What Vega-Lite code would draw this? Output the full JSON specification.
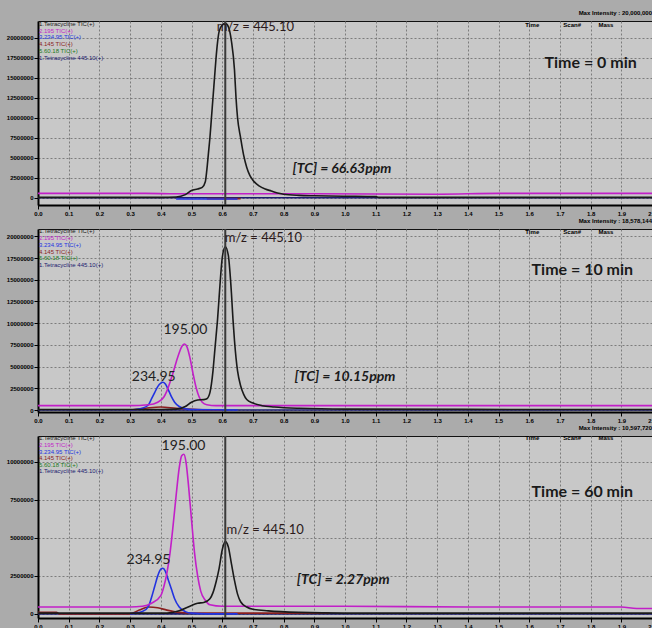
{
  "$schema": "https://vega.github.io/schema/vega-lite/v6.json",
  "background": "#ababab",
  "padding": {"left": 0, "top": 9, "right": 0, "bottom": 0},
  "spacing": 0,
  "config": {
    "view": {"fill": "#c8c8c8", "stroke": "#111111", "strokeWidth": 1},
    "axis": {"labelFont": "Liberation Sans", "labelFontSize": 6, "labelFontWeight": "bold", "labelColor": "#000000", "tickColor": "#000000", "tickSize": 4, "domainColor": "#000000", "domainWidth": 2, "gridColor": "#7c7c7c", "gridDash": [2, 2], "gridWidth": 1, "labelPadding": 1},
    "title": {"font": "Liberation Sans", "fontSize": 6, "fontWeight": "bold", "anchor": "end", "frame": "group", "offset": 0, "color": "#000000"},
    "line": {"strokeWidth": 1.6, "interpolate": "monotone"}
  },
  "datasets": {
    "lines": [
      {"p":1,"s":"m445","x":0,"y":0},{"p":1,"s":"m445","x":2,"y":0},
      {"p":1,"s":"m145","x":0.55,"y":-100000},{"p":1,"s":"m145","x":0.66,"y":-100000},
      {"p":1,"s":"m234","x":0.45,"y":-150000},{"p":1,"s":"m234","x":0.65,"y":-150000},
      {"p":1,"s":"m195","x":0,"y":550000},{"p":1,"s":"m195","x":0.35,"y":550000},{"p":1,"s":"m195","x":0.45,"y":500000},{"p":1,"s":"m195","x":0.9,"y":500000},{"p":1,"s":"m195","x":1.3,"y":450000},{"p":1,"s":"m195","x":1.5,"y":550000},{"p":1,"s":"m195","x":2,"y":550000},
      {"p":1,"s":"tic","x":0,"y":50000},{"p":1,"s":"tic","x":0.4,"y":50000},{"p":1,"s":"tic","x":0.45,"y":100000},{"p":1,"s":"tic","x":0.48,"y":400000},{"p":1,"s":"tic","x":0.5,"y":900000},{"p":1,"s":"tic","x":0.52,"y":1100000},{"p":1,"s":"tic","x":0.535,"y":1300000},{"p":1,"s":"tic","x":0.545,"y":2000000},{"p":1,"s":"tic","x":0.55,"y":3500000},{"p":1,"s":"tic","x":0.555,"y":5500000},{"p":1,"s":"tic","x":0.56,"y":7500000},{"p":1,"s":"tic","x":0.565,"y":10000000},{"p":1,"s":"tic","x":0.57,"y":12500000},{"p":1,"s":"tic","x":0.575,"y":15000000},{"p":1,"s":"tic","x":0.58,"y":17500000},{"p":1,"s":"tic","x":0.585,"y":19500000},{"p":1,"s":"tic","x":0.59,"y":20800000},{"p":1,"s":"tic","x":0.6,"y":21600000},{"p":1,"s":"tic","x":0.61,"y":21800000},{"p":1,"s":"tic","x":0.62,"y":21400000},{"p":1,"s":"tic","x":0.63,"y":19600000},{"p":1,"s":"tic","x":0.64,"y":16000000},{"p":1,"s":"tic","x":0.645,"y":12500000},{"p":1,"s":"tic","x":0.65,"y":10000000},{"p":1,"s":"tic","x":0.66,"y":7500000},{"p":1,"s":"tic","x":0.67,"y":5300000},{"p":1,"s":"tic","x":0.68,"y":3800000},{"p":1,"s":"tic","x":0.69,"y":2800000},{"p":1,"s":"tic","x":0.7,"y":2200000},{"p":1,"s":"tic","x":0.72,"y":1500000},{"p":1,"s":"tic","x":0.74,"y":1100000},{"p":1,"s":"tic","x":0.76,"y":850000},{"p":1,"s":"tic","x":0.78,"y":600000},{"p":1,"s":"tic","x":0.8,"y":450000},{"p":1,"s":"tic","x":0.85,"y":300000},{"p":1,"s":"tic","x":0.9,"y":250000},{"p":1,"s":"tic","x":1.0,"y":200000},{"p":1,"s":"tic","x":1.1,"y":150000},{"p":1,"s":"tic","x":1.11,"y":50000},{"p":1,"s":"tic","x":2,"y":50000},

      {"p":2,"s":"m445","x":0,"y":0},{"p":2,"s":"m445","x":2,"y":0},
      {"p":2,"s":"m145","x":0.3,"y":0},{"p":2,"s":"m145","x":0.35,"y":200000},{"p":2,"s":"m145","x":0.4,"y":350000},{"p":2,"s":"m145","x":0.45,"y":200000},{"p":2,"s":"m145","x":0.52,"y":50000},{"p":2,"s":"m145","x":0.6,"y":0},
      {"p":2,"s":"m234","x":0.3,"y":0},{"p":2,"s":"m234","x":0.34,"y":200000},{"p":2,"s":"m234","x":0.36,"y":600000},{"p":2,"s":"m234","x":0.37,"y":1300000},{"p":2,"s":"m234","x":0.38,"y":2000000},{"p":2,"s":"m234","x":0.39,"y":2700000},{"p":2,"s":"m234","x":0.4,"y":3100000},{"p":2,"s":"m234","x":0.406,"y":3200000},{"p":2,"s":"m234","x":0.415,"y":3000000},{"p":2,"s":"m234","x":0.425,"y":2300000},{"p":2,"s":"m234","x":0.435,"y":1500000},{"p":2,"s":"m234","x":0.445,"y":900000},{"p":2,"s":"m234","x":0.46,"y":400000},{"p":2,"s":"m234","x":0.48,"y":150000},{"p":2,"s":"m234","x":0.5,"y":50000},{"p":2,"s":"m234","x":0.65,"y":0},
      {"p":2,"s":"m195","x":0,"y":500000},{"p":2,"s":"m195","x":0.3,"y":500000},{"p":2,"s":"m195","x":0.36,"y":600000},{"p":2,"s":"m195","x":0.39,"y":900000},{"p":2,"s":"m195","x":0.41,"y":1500000},{"p":2,"s":"m195","x":0.42,"y":2200000},{"p":2,"s":"m195","x":0.43,"y":3200000},{"p":2,"s":"m195","x":0.44,"y":4300000},{"p":2,"s":"m195","x":0.45,"y":5500000},{"p":2,"s":"m195","x":0.46,"y":6600000},{"p":2,"s":"m195","x":0.47,"y":7400000},{"p":2,"s":"m195","x":0.477,"y":7600000},{"p":2,"s":"m195","x":0.485,"y":7300000},{"p":2,"s":"m195","x":0.495,"y":6000000},{"p":2,"s":"m195","x":0.505,"y":4200000},{"p":2,"s":"m195","x":0.515,"y":2600000},{"p":2,"s":"m195","x":0.525,"y":1500000},{"p":2,"s":"m195","x":0.535,"y":900000},{"p":2,"s":"m195","x":0.55,"y":600000},{"p":2,"s":"m195","x":0.58,"y":500000},{"p":2,"s":"m195","x":2,"y":500000},
      {"p":2,"s":"tic","x":0,"y":50000},{"p":2,"s":"tic","x":0.4,"y":50000},{"p":2,"s":"tic","x":0.45,"y":100000},{"p":2,"s":"tic","x":0.48,"y":400000},{"p":2,"s":"tic","x":0.5,"y":900000},{"p":2,"s":"tic","x":0.52,"y":1150000},{"p":2,"s":"tic","x":0.54,"y":1200000},{"p":2,"s":"tic","x":0.55,"y":1300000},{"p":2,"s":"tic","x":0.56,"y":2000000},{"p":2,"s":"tic","x":0.565,"y":3000000},{"p":2,"s":"tic","x":0.57,"y":4500000},{"p":2,"s":"tic","x":0.575,"y":6500000},{"p":2,"s":"tic","x":0.58,"y":8500000},{"p":2,"s":"tic","x":0.585,"y":10500000},{"p":2,"s":"tic","x":0.59,"y":13000000},{"p":2,"s":"tic","x":0.595,"y":15500000},{"p":2,"s":"tic","x":0.6,"y":17500000},{"p":2,"s":"tic","x":0.61,"y":18800000},{"p":2,"s":"tic","x":0.62,"y":17800000},{"p":2,"s":"tic","x":0.625,"y":16000000},{"p":2,"s":"tic","x":0.63,"y":13500000},{"p":2,"s":"tic","x":0.635,"y":10500000},{"p":2,"s":"tic","x":0.64,"y":8000000},{"p":2,"s":"tic","x":0.645,"y":6000000},{"p":2,"s":"tic","x":0.65,"y":4500000},{"p":2,"s":"tic","x":0.66,"y":2800000},{"p":2,"s":"tic","x":0.67,"y":1800000},{"p":2,"s":"tic","x":0.68,"y":1200000},{"p":2,"s":"tic","x":0.7,"y":800000},{"p":2,"s":"tic","x":0.73,"y":500000},{"p":2,"s":"tic","x":0.77,"y":350000},{"p":2,"s":"tic","x":0.85,"y":200000},{"p":2,"s":"tic","x":1.0,"y":100000},{"p":2,"s":"tic","x":2,"y":50000},

      {"p":3,"s":"m445","x":0,"y":0},{"p":3,"s":"m445","x":2,"y":0},
      {"p":3,"s":"m145","x":0,"y":100000},{"p":3,"s":"m145","x":0.06,"y":100000},{"p":3,"s":"m145","x":0.07,"y":0},{"p":3,"s":"m145","x":0.3,"y":0},{"p":3,"s":"m145","x":0.33,"y":250000},{"p":3,"s":"m145","x":0.36,"y":450000},{"p":3,"s":"m145","x":0.39,"y":400000},{"p":3,"s":"m145","x":0.42,"y":250000},{"p":3,"s":"m145","x":0.46,"y":100000},{"p":3,"s":"m145","x":0.5,"y":50000},{"p":3,"s":"m145","x":0.95,"y":50000},
      {"p":3,"s":"m234","x":0.3,"y":0},{"p":3,"s":"m234","x":0.34,"y":150000},{"p":3,"s":"m234","x":0.36,"y":500000},{"p":3,"s":"m234","x":0.37,"y":1100000},{"p":3,"s":"m234","x":0.38,"y":1800000},{"p":3,"s":"m234","x":0.39,"y":2500000},{"p":3,"s":"m234","x":0.4,"y":2950000},{"p":3,"s":"m234","x":0.407,"y":3000000},{"p":3,"s":"m234","x":0.415,"y":2800000},{"p":3,"s":"m234","x":0.425,"y":2200000},{"p":3,"s":"m234","x":0.435,"y":1600000},{"p":3,"s":"m234","x":0.445,"y":1000000},{"p":3,"s":"m234","x":0.46,"y":450000},{"p":3,"s":"m234","x":0.48,"y":150000},{"p":3,"s":"m234","x":0.5,"y":50000},{"p":3,"s":"m234","x":0.55,"y":0},{"p":3,"s":"m234","x":0.65,"y":0},
      {"p":3,"s":"m195","x":0,"y":450000},{"p":3,"s":"m195","x":0.3,"y":450000},{"p":3,"s":"m195","x":0.34,"y":500000},{"p":3,"s":"m195","x":0.37,"y":700000},{"p":3,"s":"m195","x":0.4,"y":1200000},{"p":3,"s":"m195","x":0.41,"y":1800000},{"p":3,"s":"m195","x":0.42,"y":2700000},{"p":3,"s":"m195","x":0.43,"y":4000000},{"p":3,"s":"m195","x":0.44,"y":5800000},{"p":3,"s":"m195","x":0.45,"y":7800000},{"p":3,"s":"m195","x":0.46,"y":9600000},{"p":3,"s":"m195","x":0.468,"y":10400000},{"p":3,"s":"m195","x":0.475,"y":10500000},{"p":3,"s":"m195","x":0.482,"y":10000000},{"p":3,"s":"m195","x":0.49,"y":8500000},{"p":3,"s":"m195","x":0.5,"y":6200000},{"p":3,"s":"m195","x":0.51,"y":4000000},{"p":3,"s":"m195","x":0.52,"y":2500000},{"p":3,"s":"m195","x":0.53,"y":1500000},{"p":3,"s":"m195","x":0.545,"y":900000},{"p":3,"s":"m195","x":0.56,"y":600000},{"p":3,"s":"m195","x":0.6,"y":500000},{"p":3,"s":"m195","x":1.0,"y":500000},{"p":3,"s":"m195","x":1.4,"y":450000},{"p":3,"s":"m195","x":1.9,"y":450000},{"p":3,"s":"m195","x":1.95,"y":350000},{"p":3,"s":"m195","x":2,"y":350000},
      {"p":3,"s":"tic","x":0,"y":50000},{"p":3,"s":"tic","x":0.42,"y":50000},{"p":3,"s":"tic","x":0.46,"y":200000},{"p":3,"s":"tic","x":0.5,"y":550000},{"p":3,"s":"tic","x":0.52,"y":700000},{"p":3,"s":"tic","x":0.54,"y":750000},{"p":3,"s":"tic","x":0.56,"y":1000000},{"p":3,"s":"tic","x":0.57,"y":1400000},{"p":3,"s":"tic","x":0.58,"y":2100000},{"p":3,"s":"tic","x":0.59,"y":3000000},{"p":3,"s":"tic","x":0.6,"y":4200000},{"p":3,"s":"tic","x":0.61,"y":4750000},{"p":3,"s":"tic","x":0.62,"y":4400000},{"p":3,"s":"tic","x":0.63,"y":3300000},{"p":3,"s":"tic","x":0.64,"y":2200000},{"p":3,"s":"tic","x":0.65,"y":1300000},{"p":3,"s":"tic","x":0.66,"y":800000},{"p":3,"s":"tic","x":0.68,"y":450000},{"p":3,"s":"tic","x":0.7,"y":300000},{"p":3,"s":"tic","x":0.75,"y":200000},{"p":3,"s":"tic","x":0.85,"y":100000},{"p":3,"s":"tic","x":1.0,"y":50000},{"p":3,"s":"tic","x":2,"y":50000}
    ],
    "notes": [
      {"p":1,"k":"mz","x":0.708,"y":21400000,"t":"m/z = 445.10"},
      {"p":1,"k":"time","x":1.8,"y":16900000,"t":"Time = 0 min"},
      {"p":1,"k":"tc","x":0.99,"y":3600000,"t":"[TC] = 66.63ppm"},
      {"p":1,"k":"hdr","x":1.61,"y":21600000,"t":"Time"},
      {"p":1,"k":"hdr","x":1.74,"y":21600000,"t":"Scan#"},
      {"p":1,"k":"hdr","x":1.85,"y":21600000,"t":"Mass"},
      {"p":2,"k":"mz","x":0.734,"y":19800000,"t":"m/z = 445.10"},
      {"p":2,"k":"time","x":1.773,"y":16100000,"t":"Time = 10 min"},
      {"p":2,"k":"peak","x":0.48,"y":9200000,"t":"195.00"},
      {"p":2,"k":"peak","x":0.377,"y":3800000,"t":"234.95"},
      {"p":2,"k":"tc","x":1.0,"y":3800000,"t":"[TC] = 10.15ppm"},
      {"p":2,"k":"hdr","x":1.61,"y":20500000,"t":"Time"},
      {"p":2,"k":"hdr","x":1.74,"y":20500000,"t":"Scan#"},
      {"p":2,"k":"hdr","x":1.85,"y":20500000,"t":"Mass"},
      {"p":3,"k":"peak","x":0.474,"y":11050000,"t":"195.00"},
      {"p":3,"k":"time","x":1.773,"y":8030000,"t":"Time = 60 min"},
      {"p":3,"k":"mz","x":0.74,"y":5530000,"t":"m/z = 445.10"},
      {"p":3,"k":"peak","x":0.36,"y":3550000,"t":"234.95"},
      {"p":3,"k":"tc","x":0.994,"y":2240000,"t":"[TC] = 2.27ppm"},
      {"p":3,"k":"hdr","x":1.61,"y":11580000,"t":"Time"},
      {"p":3,"k":"hdr","x":1.74,"y":11580000,"t":"Scan#"},
      {"p":3,"k":"hdr","x":1.85,"y":11580000,"t":"Mass"}
    ],
    "legend": [
      {"p":1,"s":"tic","x":0,"y":21750000,"t":"1.Tetracycline TIC(+)"},
      {"p":1,"s":"m195","x":0,"y":20900000,"t":"2.195 TIC(+)"},
      {"p":1,"s":"m234","x":0,"y":20100000,"t":"3.234.95 TIC(+)"},
      {"p":1,"s":"m145","x":0,"y":19250000,"t":"4.145 TIC(+)"},
      {"p":1,"s":"m60","x":0,"y":18400000,"t":"5.60.18 TIC(+)"},
      {"p":1,"s":"m445","x":0,"y":17500000,"t":"1.Tetracycline 445.10(+)"},
      {"p":2,"s":"tic","x":0,"y":20600000,"t":"1.Tetracycline TIC(+)"},
      {"p":2,"s":"m195","x":0,"y":19800000,"t":"2.195 TIC(+)"},
      {"p":2,"s":"m234","x":0,"y":19000000,"t":"3.234.95 TIC(+)"},
      {"p":2,"s":"m145","x":0,"y":18200000,"t":"4.145 TIC(+)"},
      {"p":2,"s":"m60","x":0,"y":17500000,"t":"5.60.18 TIC(+)"},
      {"p":2,"s":"m445","x":0,"y":16700000,"t":"1.Tetracycline 445.10(+)"},
      {"p":3,"s":"tic","x":0,"y":11580000,"t":"1.Tetracycline TIC(+)"},
      {"p":3,"s":"m195","x":0,"y":11100000,"t":"2.195 TIC(+)"},
      {"p":3,"s":"m234","x":0,"y":10680000,"t":"3.234.95 TIC(+)"},
      {"p":3,"s":"m145","x":0,"y":10280000,"t":"4.145 TIC(+)"},
      {"p":3,"s":"m60","x":0,"y":9820000,"t":"5.60.18 TIC(+)"},
      {"p":3,"s":"m445","x":0,"y":9390000,"t":"1.Tetracycline 445.10(+)"}
    ],
    "cursor": [
      {"p":1,"x":0.61,"y":-900000,"y2":22100000},
      {"p":2,"x":0.61,"y":-230000,"y2":20850000},
      {"p":3,"x":0.61,"y":-270000,"y2":11700000}
    ]
  },
  "vconcat": [
    {
      "width": 614, "height": 184,
      "title": {"text": "Max Intensity : 20,000,000"},
      "encoding": {
        "x": {"field": "x", "type": "quantitative", "scale": {"domain": [0, 2], "nice": false}, "axis": {"title": null, "values": [0,0.1,0.2,0.3,0.4,0.5,0.6,0.7,0.8,0.9,1.0,1.1,1.2,1.3,1.4,1.5,1.6,1.7,1.8,1.9,2.0], "format": ".1f", "labelFlush": false, "labelOverlap": false, "minExtent": 9, "maxExtent": 9}},
        "y": {"field": "y", "type": "quantitative", "scale": {"domain": [-900000, 22100000], "nice": false, "zero": false}, "axis": {"title": null, "values": [0,2500000,5000000,7500000,10000000,12500000,15000000,17500000,20000000], "format": "d", "labelOverlap": false, "minExtent": 37, "maxExtent": 37}}
      },
      "layer": [
        {"data": {"name": "lines"}, "transform": [{"filter": "datum.p == 1"}], "mark": {"type": "line", "clip": true},
         "encoding": {"color": {"field": "s", "type": "nominal", "scale": {"domain": ["tic","m195","m234","m145","m60","m445"], "range": ["#1a1a1a","#c21fc8","#2233e0","#8a1e1e","#1c7a1c","#1c1c70"]}, "legend": null}}},
        {"data": {"name": "cursor"}, "transform": [{"filter": "datum.p == 1"}], "mark": {"type": "rule", "color": "#3a3a3a", "strokeWidth": 2}, "encoding": {"y2": {"field": "y2"}}},
        {"data": {"name": "legend"}, "transform": [{"filter": "datum.p == 1"}], "mark": {"type": "text", "align": "left", "baseline": "middle", "dx": 1, "font": "Liberation Sans", "fontSize": 6},
         "encoding": {"text": {"field": "t"}, "color": {"field": "s", "type": "nominal", "legend": null}}},
        {"data": {"name": "notes"}, "transform": [{"filter": "datum.p == 1 && datum.k == 'hdr'"}], "mark": {"type": "text", "align": "center", "baseline": "middle", "font": "Liberation Sans", "fontSize": 6, "fontWeight": "bold", "color": "#000000"},
         "encoding": {"text": {"field": "t"}}},
        {"data": {"name": "notes"}, "transform": [{"filter": "datum.p == 1 && datum.k == 'mz'"}], "mark": {"type": "text", "align": "center", "baseline": "middle", "font": "Lato", "fontSize": 13, "color": "#2b1a1a"},
         "encoding": {"text": {"field": "t"}}},
        {"data": {"name": "notes"}, "transform": [{"filter": "datum.p == 1 && datum.k == 'time'"}], "mark": {"type": "text", "align": "center", "baseline": "middle", "font": "Lato", "fontSize": 16, "fontWeight": "bold", "color": "#1a1a1a"},
         "encoding": {"text": {"field": "t"}}},
        {"data": {"name": "notes"}, "transform": [{"filter": "datum.p == 1 && datum.k == 'tc'"}], "mark": {"type": "text", "align": "center", "baseline": "middle", "font": "Lato", "fontSize": 14, "fontWeight": "bold", "fontStyle": "italic", "color": "#1a1a1a"},
         "encoding": {"text": {"field": "t"}}}
      ]
    },
    {
      "width": 614, "height": 183,
      "title": {"text": "Max Intensity : 18,578,144"},
      "encoding": {
        "x": {"field": "x", "type": "quantitative", "scale": {"domain": [0, 2], "nice": false}, "axis": {"title": null, "values": [0,0.1,0.2,0.3,0.4,0.5,0.6,0.7,0.8,0.9,1.0,1.1,1.2,1.3,1.4,1.5,1.6,1.7,1.8,1.9,2.0], "format": ".1f", "labelFlush": false, "labelOverlap": false, "minExtent": 9, "maxExtent": 9}},
        "y": {"field": "y", "type": "quantitative", "scale": {"domain": [-230000, 20850000], "nice": false, "zero": false}, "axis": {"title": null, "values": [0,2500000,5000000,7500000,10000000,12500000,15000000,17500000,20000000], "format": "d", "labelOverlap": false, "minExtent": 37, "maxExtent": 37}}
      },
      "layer": [
        {"data": {"name": "lines"}, "transform": [{"filter": "datum.p == 2"}], "mark": {"type": "line", "clip": true},
         "encoding": {"color": {"field": "s", "type": "nominal", "scale": {"domain": ["tic","m195","m234","m145","m60","m445"], "range": ["#1a1a1a","#c21fc8","#2233e0","#8a1e1e","#1c7a1c","#1c1c70"]}, "legend": null}}},
        {"data": {"name": "cursor"}, "transform": [{"filter": "datum.p == 2"}], "mark": {"type": "rule", "color": "#3a3a3a", "strokeWidth": 2}, "encoding": {"y2": {"field": "y2"}}},
        {"data": {"name": "legend"}, "transform": [{"filter": "datum.p == 2"}], "mark": {"type": "text", "align": "left", "baseline": "middle", "dx": 1, "font": "Liberation Sans", "fontSize": 6},
         "encoding": {"text": {"field": "t"}, "color": {"field": "s", "type": "nominal", "legend": null}}},
        {"data": {"name": "notes"}, "transform": [{"filter": "datum.p == 2 && datum.k == 'hdr'"}], "mark": {"type": "text", "align": "center", "baseline": "middle", "font": "Liberation Sans", "fontSize": 6, "fontWeight": "bold", "color": "#000000"},
         "encoding": {"text": {"field": "t"}}},
        {"data": {"name": "notes"}, "transform": [{"filter": "datum.p == 2 && datum.k == 'mz'"}], "mark": {"type": "text", "align": "center", "baseline": "middle", "font": "Lato", "fontSize": 13, "color": "#2b1a1a"},
         "encoding": {"text": {"field": "t"}}},
        {"data": {"name": "notes"}, "transform": [{"filter": "datum.p == 2 && datum.k == 'peak'"}], "mark": {"type": "text", "align": "center", "baseline": "middle", "font": "Lato", "fontSize": 14, "color": "#222222"},
         "encoding": {"text": {"field": "t"}}},
        {"data": {"name": "notes"}, "transform": [{"filter": "datum.p == 2 && datum.k == 'time'"}], "mark": {"type": "text", "align": "center", "baseline": "middle", "font": "Lato", "fontSize": 16, "fontWeight": "bold", "color": "#1a1a1a"},
         "encoding": {"text": {"field": "t"}}},
        {"data": {"name": "notes"}, "transform": [{"filter": "datum.p == 2 && datum.k == 'tc'"}], "mark": {"type": "text", "align": "center", "baseline": "middle", "font": "Lato", "fontSize": 14, "fontWeight": "bold", "fontStyle": "italic", "color": "#1a1a1a"},
         "encoding": {"text": {"field": "t"}}}
      ]
    },
    {
      "width": 614, "height": 182,
      "title": {"text": "Max Intensity : 10,597,720"},
      "encoding": {
        "x": {"field": "x", "type": "quantitative", "scale": {"domain": [0, 2], "nice": false}, "axis": {"title": null, "values": [0,0.1,0.2,0.3,0.4,0.5,0.6,0.7,0.8,0.9,1.0,1.1,1.2,1.3,1.4,1.5,1.6,1.7,1.8,1.9,2.0], "format": ".1f", "labelFlush": false, "labelOverlap": false}},
        "y": {"field": "y", "type": "quantitative", "scale": {"domain": [-270000, 11700000], "nice": false, "zero": false}, "axis": {"title": null, "values": [0,2500000,5000000,7500000,10000000], "format": "d", "labelOverlap": false, "minExtent": 37, "maxExtent": 37}}
      },
      "layer": [
        {"data": {"name": "lines"}, "transform": [{"filter": "datum.p == 3"}], "mark": {"type": "line", "clip": true},
         "encoding": {"color": {"field": "s", "type": "nominal", "scale": {"domain": ["tic","m195","m234","m145","m60","m445"], "range": ["#1a1a1a","#c21fc8","#2233e0","#8a1e1e","#1c7a1c","#1c1c70"]}, "legend": null}}},
        {"data": {"name": "cursor"}, "transform": [{"filter": "datum.p == 3"}], "mark": {"type": "rule", "color": "#3a3a3a", "strokeWidth": 2}, "encoding": {"y2": {"field": "y2"}}},
        {"data": {"name": "legend"}, "transform": [{"filter": "datum.p == 3"}], "mark": {"type": "text", "align": "left", "baseline": "middle", "dx": 1, "font": "Liberation Sans", "fontSize": 6},
         "encoding": {"text": {"field": "t"}, "color": {"field": "s", "type": "nominal", "legend": null}}},
        {"data": {"name": "notes"}, "transform": [{"filter": "datum.p == 3 && datum.k == 'hdr'"}], "mark": {"type": "text", "align": "center", "baseline": "middle", "font": "Liberation Sans", "fontSize": 6, "fontWeight": "bold", "color": "#000000"},
         "encoding": {"text": {"field": "t"}}},
        {"data": {"name": "notes"}, "transform": [{"filter": "datum.p == 3 && datum.k == 'mz'"}], "mark": {"type": "text", "align": "center", "baseline": "middle", "font": "Lato", "fontSize": 13, "color": "#2b1a1a"},
         "encoding": {"text": {"field": "t"}}},
        {"data": {"name": "notes"}, "transform": [{"filter": "datum.p == 3 && datum.k == 'peak'"}], "mark": {"type": "text", "align": "center", "baseline": "middle", "font": "Lato", "fontSize": 14, "color": "#222222"},
         "encoding": {"text": {"field": "t"}}},
        {"data": {"name": "notes"}, "transform": [{"filter": "datum.p == 3 && datum.k == 'time'"}], "mark": {"type": "text", "align": "center", "baseline": "middle", "font": "Lato", "fontSize": 16, "fontWeight": "bold", "color": "#1a1a1a"},
         "encoding": {"text": {"field": "t"}}},
        {"data": {"name": "notes"}, "transform": [{"filter": "datum.p == 3 && datum.k == 'tc'"}], "mark": {"type": "text", "align": "center", "baseline": "middle", "font": "Lato", "fontSize": 14, "fontWeight": "bold", "fontStyle": "italic", "color": "#1a1a1a"},
         "encoding": {"text": {"field": "t"}}}
      ]
    }
  ]
}
